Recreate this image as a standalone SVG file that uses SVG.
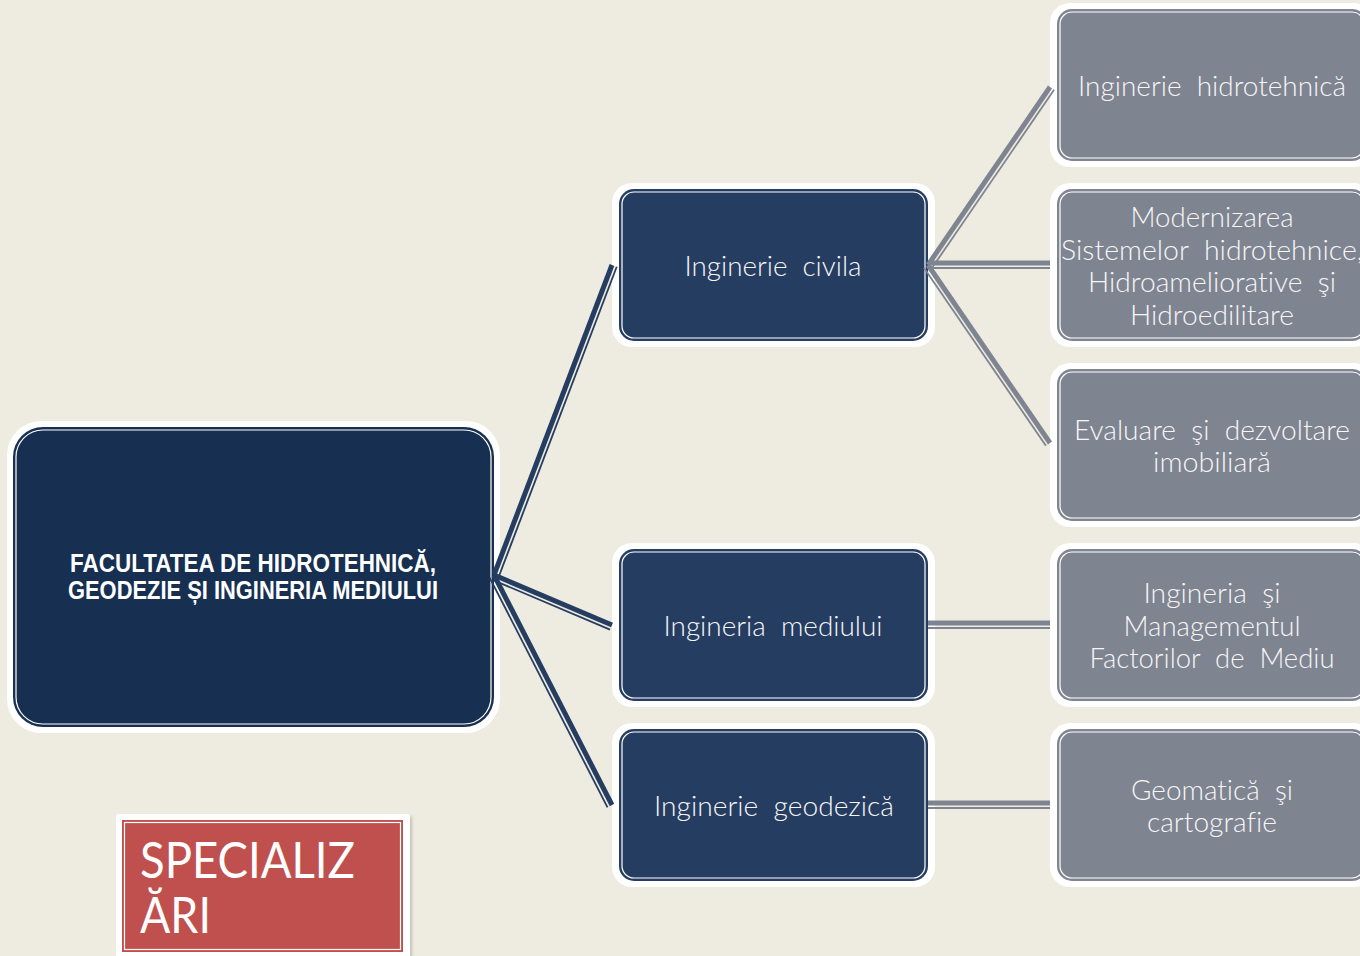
<svg xmlns="http://www.w3.org/2000/svg" width="1360" height="956" viewBox="0 0 1360 956">
  <defs>
    <style>
      .ring { fill: #ffffff; }
      .root { fill: #173052; }
      .mid { fill: #263d62; }
      .leaf { fill: #7f8491; }
      .inner { fill: none; stroke: #ffffff; stroke-width: 1.2; }
      .lbl { font-family: Lato, "Open Sans", "Liberation Sans", sans-serif; font-weight: 300; font-size: 27px; fill: #f6f6f6; text-anchor: middle; white-space: pre; font-variant-ligatures: none; }
      .title { font-family: "Liberation Sans Narrow", "Liberation Sans", sans-serif; font-weight: bold; font-size: 25px; fill: #ffffff; text-anchor: middle; }
      .tag { font-family: Lato, "Open Sans", "Liberation Sans", sans-serif; font-weight: 400; font-size: 50px; fill: #ffffff; }
      .thickD { stroke: #263d62; stroke-width: 5; fill: none; }
      .thinD { stroke: #263d62; stroke-width: 1.8; fill: none; }
      .thickG { stroke: #7f8491; stroke-width: 5; fill: none; }
      .thinG { stroke: #7f8491; stroke-width: 1.8; fill: none; }
    </style>
    <filter id="soft" x="-5%" y="-5%" width="115%" height="115%">
      <feDropShadow dx="2" dy="2" stdDeviation="1.5" flood-color="#000000" flood-opacity="0.18"/>
    </filter>
  </defs>

  <rect x="0" y="0" width="1360" height="956" fill="#eeebe0"/>

  <!-- faculty node -->
  <g id="node-faculty">
    <rect class="ring" x="7" y="421" width="493" height="312" rx="34"/>
    <rect class="root" x="13" y="427" width="481" height="300" rx="30"/>
    <rect class="inner" x="16" y="430" width="475" height="294" rx="27"/>
    <text class="title" x="253" y="572" textLength="366" lengthAdjust="spacingAndGlyphs">FACULTATEA DE HIDROTEHNICĂ,</text>
    <text class="title" x="253" y="599" textLength="370" lengthAdjust="spacingAndGlyphs">GEODEZIE ȘI INGINERIA MEDIULUI</text>
  </g>

  <!-- second level -->
  <g id="node-civila">
    <rect class="ring" x="612" y="183" width="323" height="164" rx="20"/>
    <rect class="mid" x="619" y="189" width="309" height="152" rx="15"/>
    <rect class="inner" x="622" y="192" width="303" height="146" rx="12"/>
    <text class="lbl" x="773" y="276" textLength="177" lengthAdjust="spacingAndGlyphs">Inginerie  civila</text>
  </g>
  <g id="node-mediului">
    <rect class="ring" x="612" y="543" width="323" height="164" rx="20"/>
    <rect class="mid" x="619" y="549" width="309" height="152" rx="15"/>
    <rect class="inner" x="622" y="552" width="303" height="146" rx="12"/>
    <text class="lbl" x="773" y="636" textLength="219" lengthAdjust="spacingAndGlyphs">Ingineria  mediului</text>
  </g>
  <g id="node-geodezica">
    <rect class="ring" x="612" y="723" width="323" height="164" rx="20"/>
    <rect class="mid" x="619" y="729" width="309" height="152" rx="15"/>
    <rect class="inner" x="622" y="732" width="303" height="146" rx="12"/>
    <text class="lbl" x="774" y="816" textLength="240" lengthAdjust="spacingAndGlyphs">Inginerie  geodezică</text>
  </g>

  <!-- third level -->
  <g id="node-hidrotehnica">
    <rect class="ring" x="1050" y="3" width="324" height="164" rx="20"/>
    <rect class="leaf" x="1057" y="9" width="310" height="152" rx="15"/>
    <rect class="inner" x="1060" y="12" width="304" height="146" rx="12"/>
    <text class="lbl" x="1212" y="96" textLength="268" lengthAdjust="spacingAndGlyphs">Inginerie  hidrotehnică</text>
  </g>
  <g id="node-modernizarea">
    <rect class="ring" x="1050" y="183" width="324" height="164" rx="20"/>
    <rect class="leaf" x="1057" y="189" width="310" height="152" rx="15"/>
    <rect class="inner" x="1060" y="192" width="304" height="146" rx="12"/>
    <text class="lbl" x="1212" y="227" textLength="163" lengthAdjust="spacingAndGlyphs">Modernizarea</text>
    <text class="lbl" x="1212" y="260" textLength="302" lengthAdjust="spacingAndGlyphs">Sistemelor  hidrotehnice,</text>
    <text class="lbl" x="1212" y="292" textLength="248" lengthAdjust="spacingAndGlyphs">Hidroameliorative  şi</text>
    <text class="lbl" x="1212" y="325" textLength="164" lengthAdjust="spacingAndGlyphs">Hidroedilitare</text>
  </g>
  <g id="node-evaluare">
    <rect class="ring" x="1050" y="363" width="324" height="164" rx="20"/>
    <rect class="leaf" x="1057" y="369" width="310" height="152" rx="15"/>
    <rect class="inner" x="1060" y="372" width="304" height="146" rx="12"/>
    <text class="lbl" x="1212" y="440" textLength="276" lengthAdjust="spacingAndGlyphs">Evaluare  şi  dezvoltare</text>
    <text class="lbl" x="1212" y="472" textLength="118" lengthAdjust="spacingAndGlyphs">imobiliară</text>
  </g>
  <g id="node-factori">
    <rect class="ring" x="1050" y="543" width="324" height="164" rx="20"/>
    <rect class="leaf" x="1057" y="549" width="310" height="152" rx="15"/>
    <rect class="inner" x="1060" y="552" width="304" height="146" rx="12"/>
    <text class="lbl" x="1212" y="603" textLength="137" lengthAdjust="spacingAndGlyphs">Ingineria  şi</text>
    <text class="lbl" x="1212" y="636" textLength="177" lengthAdjust="spacingAndGlyphs">Managementul</text>
    <text class="lbl" x="1212" y="668" textLength="245" lengthAdjust="spacingAndGlyphs">Factorilor  de  Mediu</text>
  </g>
  <g id="node-geomatica">
    <rect class="ring" x="1050" y="723" width="324" height="164" rx="20"/>
    <rect class="leaf" x="1057" y="729" width="310" height="152" rx="15"/>
    <rect class="inner" x="1060" y="732" width="304" height="146" rx="12"/>
    <text class="lbl" x="1212" y="800" textLength="162" lengthAdjust="spacingAndGlyphs">Geomatică  şi</text>
    <text class="lbl" x="1212" y="832" textLength="130" lengthAdjust="spacingAndGlyphs">cartografie</text>
  </g>

  <!-- section tag -->
  <g id="tag-specializari">
    <rect class="ring" x="116" y="814" width="294" height="150" rx="3" filter="url(#soft)"/>
    <rect x="122" y="820" width="281" height="132" fill="#c0504d"/>
    <rect class="inner" x="124.5" y="822.5" width="276" height="127"/>
    <text class="tag" x="140" y="878" textLength="215" lengthAdjust="spacingAndGlyphs">SPECIALIZ</text>
    <text class="tag" x="140" y="933" textLength="71" lengthAdjust="spacingAndGlyphs">ĂRI</text>
  </g>

  <!-- connectors: thick-thin double lines -->
  <g id="connectors">
    <path class="thickD" d="M494 575 L612 265"/>
    <path class="thinD" d="M498.7 576.8 L616.7 266.8"/>
    <path class="thickD" d="M494 575 L612 625"/>
    <path class="thinD" d="M492 579.6 L610 629.6"/>
    <path class="thickD" d="M494 575 L612 805"/>
    <path class="thinD" d="M489.5 577.3 L607.5 807.3"/>

    <path class="thickG" d="M928 265 L1050 87"/>
    <path class="thinG" d="M932.1 267.8 L1054.1 89.8"/>
    <path class="thickG" d="M928 263 L1050 263"/>
    <path class="thinG" d="M928 268 L1050 268"/>
    <path class="thickG" d="M928 265 L1050 443"/>
    <path class="thinG" d="M923.9 267.8 L1045.9 445.8"/>

    <path class="thickG" d="M928 623 L1050 623"/>
    <path class="thinG" d="M928 628 L1050 628"/>
    <path class="thickG" d="M928 803 L1050 803"/>
    <path class="thinG" d="M928 808 L1050 808"/>
  </g>
</svg>
